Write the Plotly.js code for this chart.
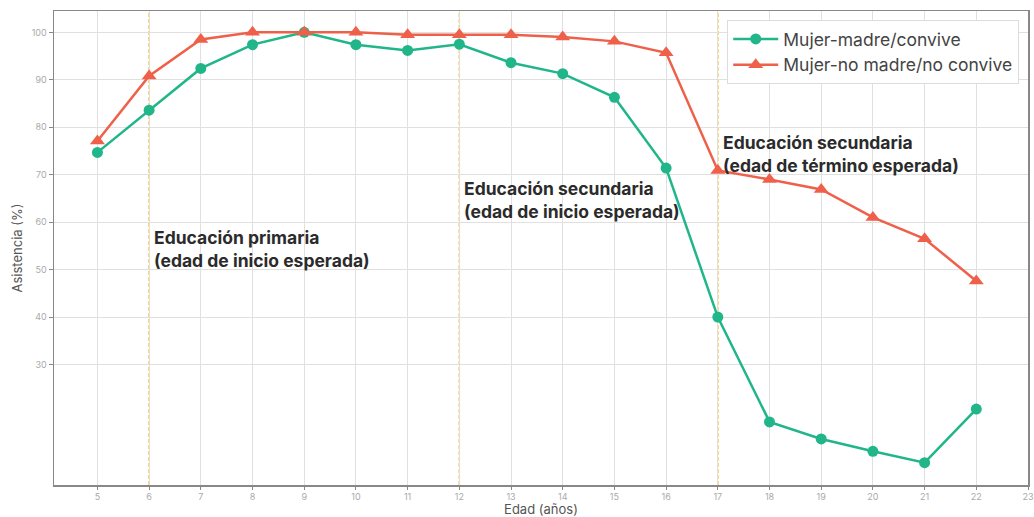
<!DOCTYPE html>
<html>
<head>
<meta charset="utf-8">
<script src="https://cdn.plot.ly/plotly-3.0.1.min.js"></script>
<style>html,body{margin:0;padding:0;background:#fff;}#chart{width:1034px;height:517px;}</style>
</head>
<body>
<div id="chart"></div>
<script>
const edades = [5,6,7,8,9,10,11,12,13,14,15,16,17,18,19,20,21,22];
const madreConvive = [74.7,83.6,92.4,97.4,100,97.4,96.2,97.5,93.6,91.3,86.3,71.4,40.0,17.9,14.3,11.7,9.3,20.6];
const noMadre = [77.1,90.8,98.5,100,100,100,99.5,99.5,99.5,99.0,98.1,95.7,70.9,69.0,66.9,61.0,56.5,47.6];
const serieNombres = ["Mujer-madre/convive","Mujer-no madre/no convive"];
const hitosEdad = [6,12,17];
const hitosTexto = ["Educación primaria<br>(edad de inicio esperada)","Educación secundaria<br>(edad de inicio esperada)","Educación secundaria<br>(edad de término esperada)"];
const hitosY = [59.3,69.8,79.4];
const xTicks = [5,6,7,8,9,10,11,12,13,14,15,16,17,18,19,20,21,22,23];
const yTicks = [30,40,50,60,70,80,90,100];

const green = "#20b689", red = "#ef604a", gold = "#f9bd1f";
const traces = [
  {x: edades, y: madreConvive, name: serieNombres[0], mode: "lines+markers", type: "scatter",
   line: {color: green, width: 2.5}, marker: {color: green, size: 11, symbol: "circle"}},
  {x: edades, y: noMadre, name: serieNombres[1], mode: "lines+markers", type: "scatter",
   line: {color: red, width: 2.5}, marker: {color: red, size: 13, symbol: "triangle-up"}}
];
const shapes = hitosEdad.map(e => ({type: "line", xref: "x", yref: "paper", x0: e, x1: e, y0: 0, y1: 1,
  line: {color: gold, width: 1.5, dash: "4px,2px"}, layer: "below"}));
const annotations = hitosEdad.map((e, i) => ({x: e, y: hitosY[i], xref: "x", yref: "y", text: "<b>" + hitosTexto[i] + "</b>",
  showarrow: false, xanchor: "left", yanchor: "top", xshift: 3, align: "left",
  font: {family: "Inter, 'Open Sans', sans-serif", size: 17.5, color: "#2b2b2b"}}));

const layout = {
  width: 1034, height: 517,
  margin: {l: 54, r: 6, t: 11, b: 32},
  paper_bgcolor: "#fff", plot_bgcolor: "#fff",
  font: {family: "Inter, 'Open Sans', sans-serif", color: "#555"},
  showlegend: true,
  legend: {x: 0.991, y: 0.981, xanchor: "right", yanchor: "top", bgcolor: "#fff", bordercolor: "#dcdcdc", borderwidth: 1,
    itemwidth: 45, font: {size: 17.5, color: "#444"}},
  xaxis: {range: [4.16, 23], tickvals: xTicks, ticktext: xTicks.map(String), showgrid: true, gridcolor: "#e0e0e0", gridwidth: 1,
    zeroline: false, showline: true, linecolor: "#888", linewidth: 1.5, mirror: true,
    ticks: "outside", ticklen: 3, tickcolor: "#888", tickfont: {size: 9, color: "#aaa"},
    title: {text: "Edad (años)", font: {size: 13, color: "#555"}, standoff: 8}},
  yaxis: {range: [4.6, 104.5], tickvals: yTicks, ticktext: yTicks.map(String), showgrid: true, gridcolor: "#e0e0e0", gridwidth: 1,
    zeroline: false, showline: true, linecolor: "#888", linewidth: 1.5, mirror: true,
    ticks: "outside", ticklen: 4, tickcolor: "#888", tickfont: {size: 9, color: "#aaa"},
    title: {text: "Asistencia (%)", font: {size: 13, color: "#555"}, standoff: 6}},
  shapes: shapes,
  annotations: annotations
};
Plotly.newPlot("chart", traces, layout, {displayModeBar: false, staticPlot: true});
</script>
</body>
</html>
